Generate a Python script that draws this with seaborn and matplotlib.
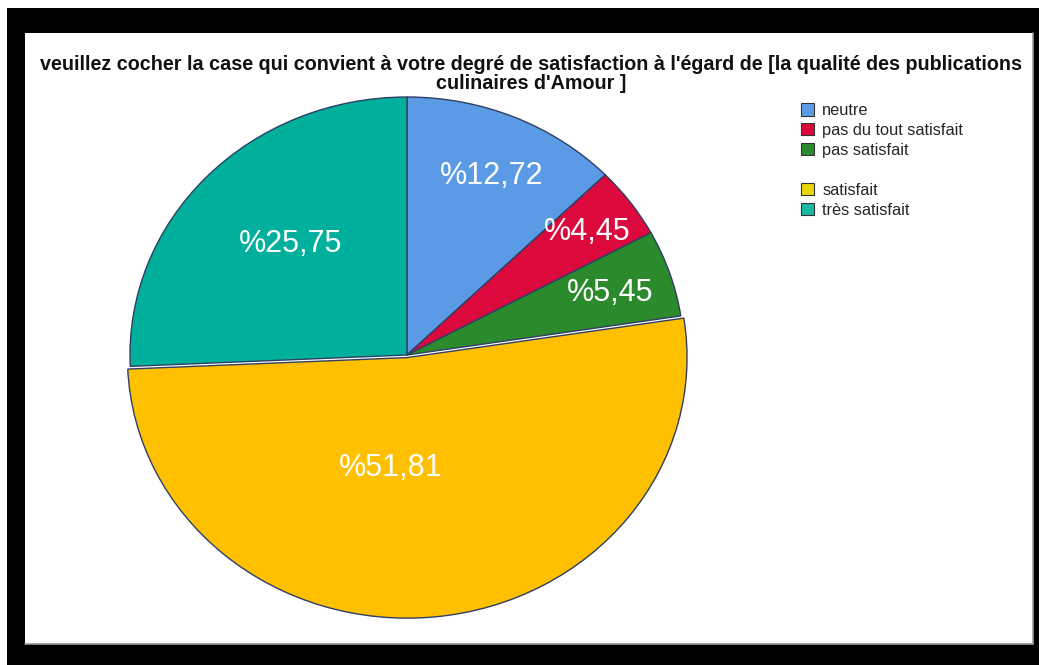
import matplotlib
matplotlib.use("Agg")
import matplotlib.pyplot as plt
import matplotlib.transforms as mtransforms
import numpy as np
import seaborn as sns
from matplotlib.patches import Rectangle, Patch
from matplotlib.lines import Line2D

# Survey answers and their shares (percent)
categories = ["neutre", "pas du tout satisfait", "pas satisfait", "satisfait", "très satisfait"]
shares = [12.72, 4.45, 5.45, 51.81, 25.75]
title = ("veuillez cocher la case qui convient à votre degré de satisfaction à l'égard de "
         "[la qualité des publications\nculinaires d'Amour ]")

sns.set_theme(style="white")
plt.rcParams["font.family"] = ["Liberation Sans", "DejaVu Sans"]

slice_colors = sns.color_palette(["#5B9BE6", "#DC0A3C", "#2B8A2B", "#FFC000", "#00B09C"])
legend_colors = ["#5B9BE6", "#DC0A3C", "#2B8A2B", "#E8D60A", "#19B8A0"]
edge = "#2E3F63"

W, H = 1039, 665
fig = plt.figure(figsize=(W / 100, H / 100), dpi=100)
fig.patch.set_facecolor("white")

# black frame and white chart panel (behind everything else)
fig.patches.append(Rectangle((7 / W, 0), (W - 7) / W, (H - 8) / H,
                             transform=fig.transFigure, facecolor="black", edgecolor="none", zorder=-3))
fig.patches.append(Rectangle((25 / W, (H - 644) / H), 1008 / W, 611 / H,
                             transform=fig.transFigure, facecolor="white", edgecolor="none", zorder=-2))
fig.lines.append(Line2D([25 / W, 1033 / W], [(H - 644) / H] * 2, transform=fig.transFigure,
                        color="#9a9a9a", lw=1.2, zorder=-1))
fig.lines.append(Line2D([1033 / W] * 2, [(H - 644) / H, (H - 33) / H], transform=fig.transFigure,
                        color="#9a9a9a", lw=1.2, zorder=-1))

# pie axes: centre (407, 355) px, radii 277 x 258 px
cx, cy, rx, ry = 407, 355, 277, 258
lim = 1.1
ax = fig.add_axes([(cx - lim * rx) / W, (H - cy - lim * ry) / H, 2 * lim * rx / W, 2 * lim * ry / H])
ax.patch.set_alpha(0)
wedges, _ = ax.pie(shares, colors=slice_colors, startangle=90, counterclock=False,
                   explode=[0, 0, 0, 0.01, 0],
                   wedgeprops=dict(edgecolor=edge, linewidth=1.0))
wedges[3].set_radius(1.01)
ax.set_aspect("auto")
ax.set_xlim(-lim, lim)
ax.set_ylim(-lim, lim)
ax.axis("off")

# value labels inside the slices (radius and angular nudge from each slice's middle)
label_dist = [0.77, 0.815, 0.775, 0.43, 0.61]
label_turn = [-0.6, 0.6, 0.6, -13.5, -2.6]
text_tf = mtransforms.offset_copy(ax.transData, fig=fig, y=-11, units="dots")
for w, v, d, t in zip(wedges, shares, label_dist, label_turn):
    ang = np.deg2rad((w.theta1 + w.theta2) / 2 + t)
    ax.text(d * np.cos(ang), d * np.sin(ang), "%" + f"{v:.2f}".replace(".", ","),
            transform=text_tf, ha="center", va="baseline", color="white", fontsize=22)

fig.text(531 / W, 1 - 74 / H, title, ha="center", va="center", multialignment="center",
         fontsize=14.2, fontweight="bold", linespacing=0.95, color="#111111")

# legend with a blank row between the negative and positive answers
handles = [Patch(facecolor=c, edgecolor="#333333", linewidth=0.8) for c in legend_colors]
blank = Patch(facecolor="none", edgecolor="none")
handles = handles[:3] + [blank] + handles[3:]
labels = categories[:3] + [""] + categories[3:]
fig.legend(handles, labels, loc="upper left", bbox_to_anchor=(801 / W, 1 - 103 / H),
           frameon=False, fontsize=11.8, handlelength=0.8, handleheight=0.8,
           handletextpad=0.5, labelspacing=0.3, borderaxespad=0, borderpad=0)

fig.savefig("out.png", dpi=100)
